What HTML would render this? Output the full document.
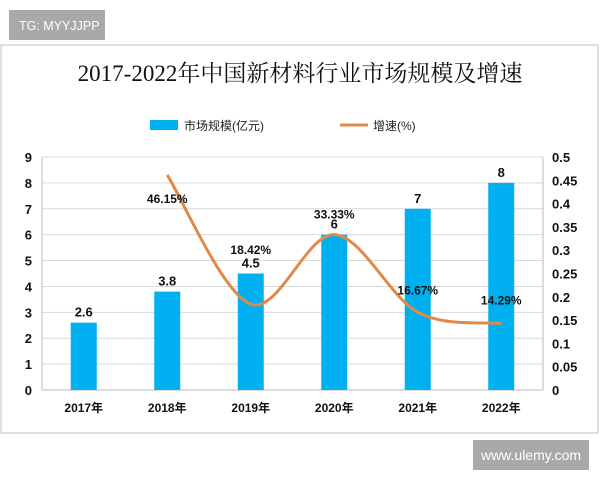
<!DOCTYPE html>
<html><head><meta charset="utf-8"><style>
body{margin:0;background:#fff;width:600px;height:480px;overflow:hidden;font-family:"Liberation Sans","Noto Sans CJK SC",sans-serif}
</style></head><body>
<svg width="600" height="480" xmlns="http://www.w3.org/2000/svg">
<rect x="9" y="10" width="96" height="30" fill="#a9a9a9"/>
<text x="19" y="30" font-size="12.5" fill="#fff" font-family="Liberation Sans, sans-serif">TG: MYYJJPP</text>
<rect x="1" y="45" width="597" height="388" fill="#fff" stroke="#d6d6d6" stroke-width="1.5"/>
<text x="300" y="81" text-anchor="middle" font-size="23" font-family="Liberation Serif, Noto Serif CJK SC, serif" fill="#111">2017-2022年中国新材料行业市场规模及增速</text>
<g>
<rect x="150" y="120" width="28" height="10" fill="#00b0f0"/>
<text x="184" y="130" font-size="12" fill="#222">市场规模(亿元)</text>
<line x1="340" y1="125" x2="368" y2="125" stroke="#e0894a" stroke-width="3"/>
<text x="373" y="130" font-size="12" fill="#222">增速(%)</text>
</g>
<g id="grid"></g><g id="bars"></g><g id="line"></g><g id="axes"></g>
</svg>
<script>
const categories=["2017年","2018年","2019年","2020年","2021年","2022年"];
const sizes=[2.6,3.8,4.5,6,7,8];
const sizeLabels=["2.6","3.8","4.5","6","7","8"];
const growth=[null,0.4615,0.1842,0.3333,0.1667,0.1429];
const growthLabels=["","46.15%","18.42%","33.33%","16.67%","14.29%"];
const leftTicks=[0,1,2,3,4,5,6,7,8,9];
const rightTicks=["0","0.05","0.1","0.15","0.2","0.25","0.3","0.35","0.4","0.45","0.5"];
const NS="http://www.w3.org/2000/svg";
const X0=42,X1=543,Y0=390,Y1=157;
const band=(X1-X0)/categories.length;
const xc=i=>X0+band*(i+0.5);
const yl=v=>Y0-(v/9)*(Y0-Y1);
const yr=v=>Y0-(v/0.5)*(Y0-Y1);
function mk(tag,attrs,parent,txt){const e=document.createElementNS(NS,tag);for(const k in attrs)e.setAttribute(k,attrs[k]);if(txt!==undefined)e.textContent=txt;document.getElementById(parent).appendChild(e);return e;}
leftTicks.forEach(t=>{
  const g=mk("line",{x1:X0,x2:X1,y1:yl(t),y2:yl(t),stroke:t===0?"#bbb":"#d9d9d9","stroke-width":1},"grid");
  
  
  const l=mk("text",{x:X0-10,y:yl(t)+5,"text-anchor":"end","font-size":13,"font-weight":"bold",fill:"#111"},"axes",String(t));
  
  
});
rightTicks.forEach((t,i)=>{
  const l=mk("text",{x:X1+9,y:yr(i*0.05)+5,"font-size":13,"font-weight":"bold",fill:"#111"},"axes",t);
  
  
});
[X0,X1].forEach(x=>{const a=mk("line",{x1:x,x2:x,y1:Y1,y2:Y0,stroke:"#bbb"},"axes");
  
  });
categories.forEach((c,i)=>{
  const b=mk("rect",{x:xc(i)-13,y:yl(sizes[i]),width:26,height:Y0-yl(sizes[i]),fill:"#00b0f0"},"bars");
  
  
  const v=mk("text",{x:xc(i),y:yl(sizes[i])-6,"text-anchor":"middle","font-size":13,"font-weight":"bold",fill:"#111"},"bars",sizeLabels[i]);
  
  
  const t=mk("text",{x:xc(i),y:Y0+22,"text-anchor":"middle","font-size":12,"font-weight":"bold",fill:"#111"},"axes",c);
  
  
});
const pts=[];growth.forEach((g,i)=>{if(g!==null)pts.push([xc(i),yr(g)]);});
let d="M"+pts[0][0]+","+pts[0][1];
for(let i=0;i<pts.length-1;i++){
  const p0=pts[Math.max(0,i-1)],p1=pts[i],p2=pts[i+1],p3=pts[Math.min(pts.length-1,i+2)];
  const k=1/6;
  d+=` C${p1[0]+(p2[0]-p0[0])*k},${p1[1]+(p2[1]-p0[1])*k} ${p2[0]-(p3[0]-p1[0])*k},${p2[1]-(p3[1]-p1[1])*k} ${p2[0]},${p2[1]}`;
}
const ln=mk("path",{d:d,fill:"none",stroke:"#e0894a","stroke-width":3},"line");


const offs=[[0,0],[0,28],[0,-50],[0,-16],[0,-18],[0,-19]];
growth.forEach((g,i)=>{if(g===null)return;
  const t=mk("text",{x:xc(i)+offs[i][0],y:yr(g)+offs[i][1],"text-anchor":"middle","font-size":12,"font-weight":"bold",fill:"#111"},"line",growthLabels[i]);
  
  
});
</script>
<div style="position:absolute;left:473px;top:440px;width:116px;height:30px;background:#a9a9a9;color:#fff;font-size:14px;line-height:30px;text-align:center">www.ulemy.com</div>
</body></html>
